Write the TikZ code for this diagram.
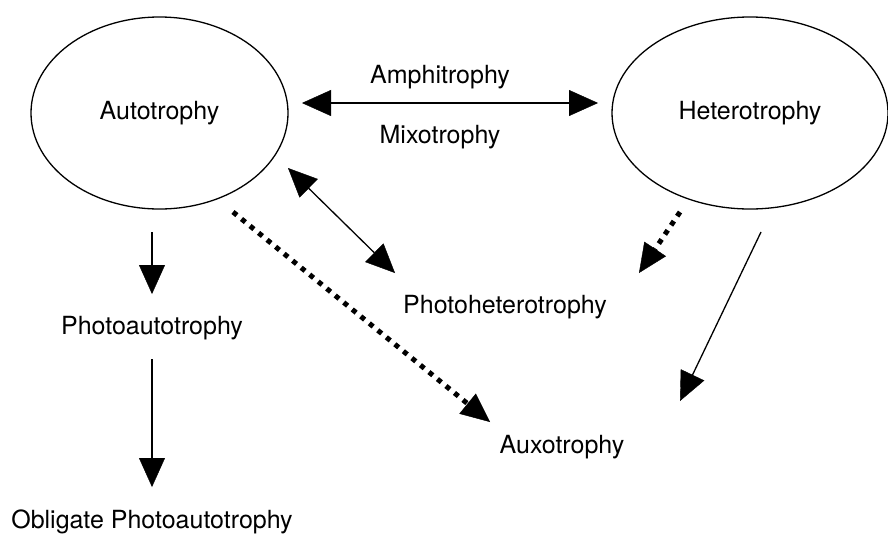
\documentclass[tikz,border=0pt]{standalone}
\usepackage{fontspec}
\setmainfont{TeX Gyre Heros}
\usetikzlibrary{arrows.meta,shapes.geometric}
\begin{document}
\begin{tikzpicture}[x=1pt,y=-1pt,
  lab/.style={font=\fontsize{25}{30}\selectfont, inner sep=0pt},
  oval/.style={ellipse, draw, line width=1.3pt, minimum height=192pt, inner sep=0pt, font=\fontsize{25}{30}\selectfont},
  onearrow/.style={line width=1.3pt, -{Triangle[length=29pt,width=26pt,line width=0.4pt]}},
  twoarrow/.style={line width=1.3pt, {Triangle[length=29pt,width=26pt,line width=0.4pt]}-{Triangle[length=29pt,width=26pt,line width=0.4pt]}},
  dotarrow/.style={line width=5pt, dash pattern=on 5pt off 6pt, -{Triangle[length=29pt,width=26pt,line width=0.4pt]}}
]
\useasboundingbox (0,0) rectangle (888,536);

\node[oval, minimum width=257pt] (auto) at (159.5,113) {Autotrophy};
\node[oval, minimum width=276pt] (het) at (750,113) {Heterotrophy};
\node[lab] (amph) at (440,77) {Amphitrophy};
\node[lab] (mixo) at (440,137) {Mixotrophy};
\node[lab] (photoaut) at (152,328) {Photoautotrophy};
\node[lab] (oblig) at (152,522) {Obligate Photoautotrophy};
\node[lab] (photohet) at (505,307) {Photoheterotrophy};
\node[lab] (auxo) at (562,447) {Auxotrophy};

\draw[twoarrow] ([shift={(142.5,-10)}]auto.center) -- ([shift={(-152,-10)}]het.center);
\draw[twoarrow] ([shift={(128.5,55)}]auto.center) -- ([shift={(-110,-34)}]photohet.center);
\draw[onearrow] ([shift={(-7.5,119)}]auto.center) -- ([shift={(0,-34)}]photoaut.center);
\draw[onearrow] ([shift={(0,31)}]photoaut.center) -- ([shift={(0,-35)}]oblig.center);
\draw[dotarrow] ([shift={(73.5,99)}]auto.center) -- ([shift={(-72,-25)}]auxo.center);
\draw[dotarrow] ([shift={(-70,99)}]het.center) -- ([shift={(134,-34)}]photohet.center);
\draw[onearrow] ([shift={(11,119)}]het.center) -- ([shift={(118,-46)}]auxo.center);
\end{tikzpicture}
\end{document}
